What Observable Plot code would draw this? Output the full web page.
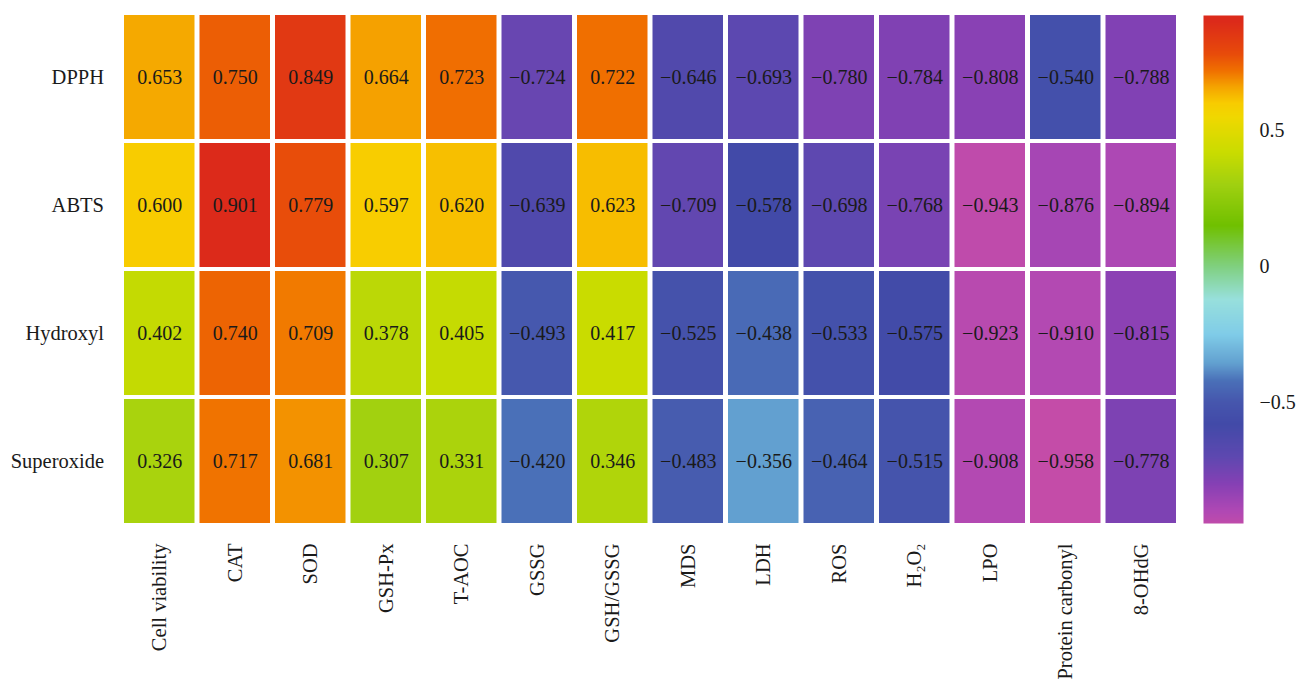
<!DOCTYPE html>
<html>
<head>
<meta charset="utf-8">
<script src="https://cdn.jsdelivr.net/npm/d3@7"></script>
<script src="https://cdn.jsdelivr.net/npm/@observablehq/plot@0.6"></script>
<style>
  html, body { margin: 0; padding: 0; background: #fff; }
  #wrap { position: relative; width: 1300px; height: 679px; overflow: hidden; }
  #wrap > div { position: absolute; top: 0; }
  #main { left: 0; }
  #legend { left: 1190px; }
</style>
</head>
<body>
<div id="wrap"><div id="main"></div><div id="legend"></div></div>
<script>
const rows = ["DPPH", "ABTS", "Hydroxyl", "Superoxide"];
const cols = ["Cell viability", "CAT", "SOD", "GSH-Px", "T-AOC", "GSSG", "GSH/GSSG", "MDS", "LDH", "ROS", "H₂O₂", "LPO", "Protein carbonyl", "8-OHdG"];
const dpph       = [0.653, 0.750, 0.849, 0.664, 0.723, -0.724, 0.722, -0.646, -0.693, -0.780, -0.784, -0.808, -0.540, -0.788];
const abts       = [0.600, 0.901, 0.779, 0.597, 0.620, -0.639, 0.623, -0.709, -0.578, -0.698, -0.768, -0.943, -0.876, -0.894];
const hydroxyl   = [0.402, 0.740, 0.709, 0.378, 0.405, -0.493, 0.417, -0.525, -0.438, -0.533, -0.575, -0.923, -0.910, -0.815];
const superoxide = [0.326, 0.717, 0.681, 0.307, 0.331, -0.420, 0.346, -0.483, -0.356, -0.464, -0.515, -0.908, -0.958, -0.778];
const legendTicks = [0.5, 0, -0.5];
const legendExtent = [-0.945, 0.923];

const colorStops = [-0.958, -0.9, -0.8, -0.7, -0.58, -0.5, -0.42, -0.356, -0.25, -0.12, 0, 0.15, 0.3, 0.42, 0.55, 0.6, 0.66, 0.72, 0.78, 0.901];
const colorRange = ["#c44ca8", "#b048b4", "#8640b4", "#5e48b0", "#424aa8", "#4656ad", "#4a70b8", "#62a0d0", "#80cce8", "#98e0dc", "#80d080", "#70c000", "#a0d010", "#cadc00", "#f0d800", "#f8cc00", "#f5a400", "#f07000", "#e84c0a", "#dc2a1a"];

const series = [dpph, abts, hydroxyl, superoxide];
const table = [];
rows.forEach((r, i) => cols.forEach((c, j) => table.push({row: r, col: c, value: series[i][j]})));

const fmt = v => (v < 0 ? "\u2212" + (-v).toFixed(3) : v.toFixed(3));
const tickFmt = v => (v < 0 ? "\u2212" + String(-v) : String(v));
const FONT = '"Liberation Serif", "Times New Roman", "DejaVu Serif", serif';
const colorScale = {type: "linear", domain: colorStops, range: colorRange, interpolate: "rgb", clamp: true};

const main = Plot.plot({
  width: 1300,
  height: 679,
  marginLeft: 121.5,
  marginRight: 121.5,
  marginTop: 13,
  marginBottom: 154,
  style: {fontFamily: FONT, fontSize: "20px", color: "#1a1a1a", background: "white"},
  x: {domain: cols, padding: 0, round: false, label: null},
  y: {domain: rows, padding: 0, round: false, label: null},
  color: colorScale,
  marks: [
    Plot.cell(table, {x: "col", y: "row", fill: "value", insetLeft: 2.5, insetRight: 2.5, insetTop: 2, insetBottom: 2}),
    Plot.text(table, {x: "col", y: "row", text: d => fmt(d.value), fontSize: 20, fill: "#1a1a1a"}),
    Plot.axisX({anchor: "bottom", tickSize: 0, tickPadding: 18, tickRotate: -90, fontSize: 20.5, label: null}),
    Plot.axisY({anchor: "left", tickSize: 0, tickPadding: 18, fontSize: 20.5, label: null})
  ]
});
document.getElementById("main").appendChild(main);

const [lo, hi] = legendExtent;
const legend = Plot.plot({
  width: 110,
  height: 679,
  marginLeft: 13,
  marginRight: 57,
  marginTop: 15,
  marginBottom: 156,
  style: {fontFamily: FONT, fontSize: "20px", color: "#1a1a1a", background: "transparent"},
  x: {domain: [0, 1], axis: null},
  y: {domain: [lo, hi], label: null},
  color: colorScale,
  marks: [
    Plot.raster({x1: 0, x2: 1, y1: lo, y2: hi, fill: (x, y) => y, pixelSize: 1}),
    Plot.axisY({anchor: "right", ticks: legendTicks, tickFormat: tickFmt, tickSize: 0, tickPadding: 16, fontSize: 20, label: null})
  ]
});
document.getElementById("legend").appendChild(legend);
</script>
</body>
</html>
